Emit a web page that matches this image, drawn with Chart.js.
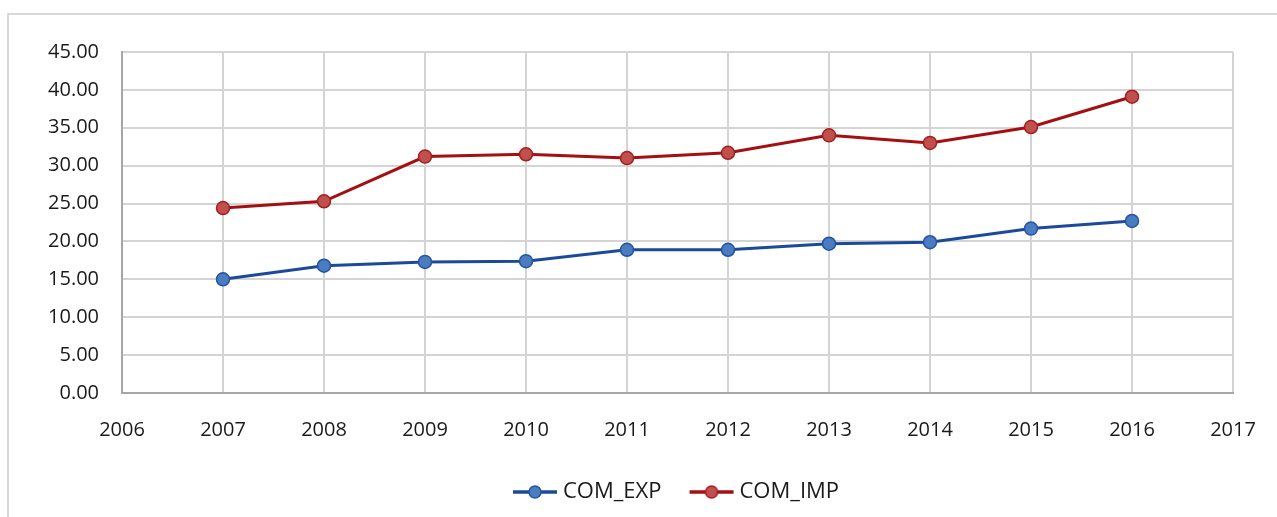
<!DOCTYPE html>
<html>
<head>
<meta charset="utf-8">
<script src="https://cdn.jsdelivr.net/npm/chart.js@4/dist/chart.umd.min.js"></script>
<style>
html,body{margin:0;padding:0;background:#fff;overflow:hidden;width:1277px;height:517px;}
#frame{position:absolute;left:7px;top:13px;width:1300px;height:600px;border:2px solid #D9D9D9;box-sizing:border-box;}
#wrap{position:absolute;left:0;top:0;width:1277px;height:517px;}
</style>
</head>
<body>
<div id="frame"></div>
<div id="wrap"><canvas id="c" width="1277" height="517"></canvas></div>
<script>
const years = [2007, 2008, 2009, 2010, 2011, 2012, 2013, 2014, 2015, 2016];
const comExp = [15.0, 16.8, 17.3, 17.4, 18.9, 18.9, 19.7, 19.9, 21.7, 22.7];
const comImp = [24.4, 25.3, 31.2, 31.5, 31.0, 31.7, 34.0, 33.0, 35.1, 39.1];
const seriesNames = ['COM_EXP', 'COM_IMP'];
const xMin = 2006, xMax = 2017;
const yMin = 0, yMax = 45, yStep = 5;

const FONT = "'Open Sans', 'Noto Sans', sans-serif";
const P = 57;
const LEGEND_SHIFT = 101;

function legendIcon(line, fill, border) {
  const W = P + 12;
  const cv = document.createElement('canvas');
  cv.width = W; cv.height = 16;
  const g = cv.getContext('2d');
  const x0 = W - 46;
  g.strokeStyle = line; g.lineWidth = 3.5;
  g.beginPath(); g.moveTo(x0 + 1, 8); g.lineTo(W - 1, 8); g.stroke();
  g.fillStyle = fill; g.strokeStyle = border; g.lineWidth = 1.5;
  g.beginPath(); g.arc(x0 + 23, 8, 6, 0, Math.PI * 2); g.fill(); g.stroke();
  return cv;
}

const styles = [
  {line: '#1C4A9B', fill: '#4A7CC0', border: '#2553A3'},
  {line: '#A50F12', fill: '#C0504D', border: '#A3201F'}
];

const data = {
  datasets: [comExp, comImp].map((vals, i) => ({
    label: seriesNames[i],
    data: years.map((y, k) => ({x: y, y: vals[k]})),
    borderColor: styles[i].line,
    borderWidth: 3,
    pointBackgroundColor: styles[i].fill,
    pointBorderColor: styles[i].border,
    pointBorderWidth: 1.5,
    pointRadius: 6.5,
    tension: 0,
    fill: false
  }))
};

const shiftLegend = {
  id: 'shiftLegend',
  afterLayout(chart) { if (chart.legend) { chart.legend.left += LEGEND_SHIFT; } }
};

new Chart(document.getElementById('c'), {
  type: 'line',
  data,
  plugins: [shiftLegend],
  options: {
    responsive: false,
    animation: false,
    layout: {padding: {left: 0, top: 52, right: 44, bottom: 4}},
    scales: {
      x: {
        type: 'linear', min: xMin, max: xMax,
        afterFit: s => { s.height = 78; s.paddingLeft = 0; s.paddingRight = 0; },
        ticks: {stepSize: 1, padding: 25, color: '#1a1a1a', font: {family: FONT, size: 20},
          callback: v => String(v)},
        grid: {color: '#D4D4D4', lineWidth: 2, drawTicks: false},
        border: {color: '#A6A6A6', width: 2}
      },
      y: {
        min: yMin, max: yMax,
        afterFit: s => { s.width = 122; },
        ticks: {stepSize: yStep, padding: 23, color: '#1a1a1a', font: {family: FONT, size: 20},
          callback: v => Number(v).toFixed(2)},
        grid: {color: '#D4D4D4', lineWidth: 2, drawTicks: false},
        border: {color: '#A6A6A6', width: 2}
      }
    },
    plugins: {
      legend: {
        position: 'bottom',
        labels: {
          color: '#1a1a1a',
          font: {family: FONT, size: 22},
          usePointStyle: true,
          pointStyleWidth: P,
          padding: 10,
          generateLabels: chart => chart.data.datasets.map((d, i) => ({
            text: d.label,
            pointStyle: legendIcon(styles[i].line, styles[i].fill, styles[i].border),
            fillStyle: styles[i].fill,
            strokeStyle: styles[i].line,
            lineWidth: 0,
            datasetIndex: i,
            hidden: false,
            fontColor: '#1a1a1a'
          }))
        }
      },
      tooltip: {enabled: false}
    }
  }
});
</script>
</body>
</html>
